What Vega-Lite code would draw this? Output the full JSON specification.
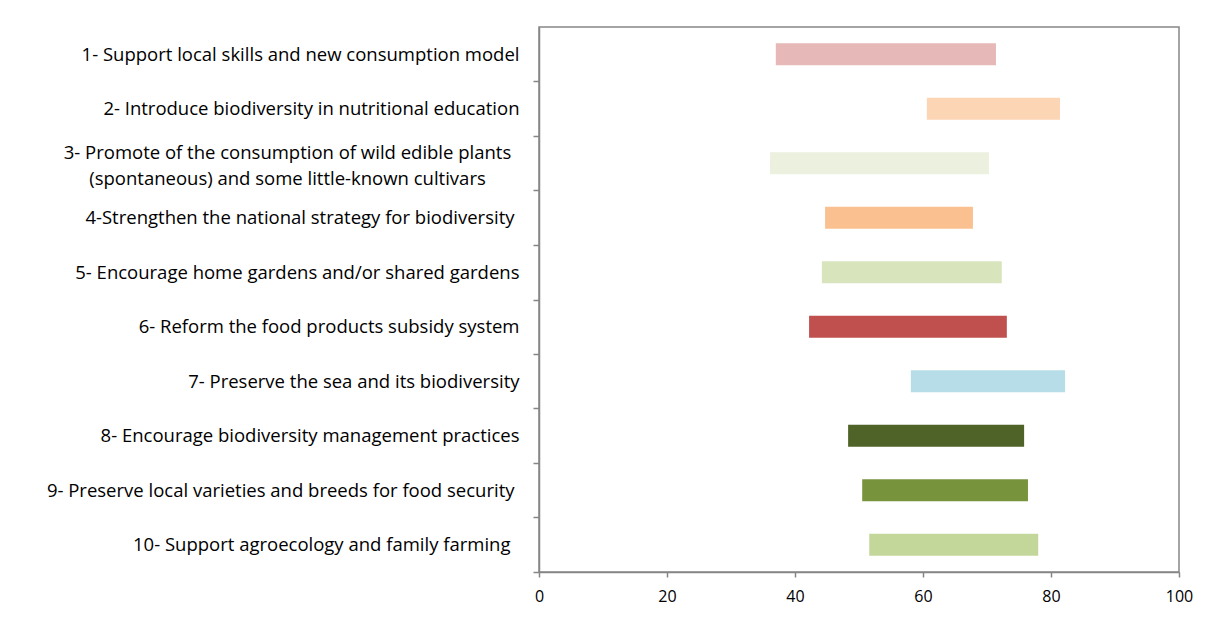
{
  "$schema": "https://vega.github.io/schema/vega-lite/v6.json",
  "autosize": {"type": "none"},
  "width": 640,
  "height": 545,
  "padding": {"left": 539, "top": 27, "right": 31, "bottom": 52},
  "background": "#ffffff",
  "data": {
    "values": [
      {"order": 1, "label": "1- Support local skills and new consumption model", "start": 37.0, "end": 71.4},
      {"order": 2, "label": "2- Introduce biodiversity in nutritional education", "start": 60.6, "end": 81.4},
      {"order": 3, "label": "3- Promote of the consumption of wild edible plants|(spontaneous) and some little-known cultivars", "start": 36.1, "end": 70.3},
      {"order": 4, "label": "4-Strengthen the national strategy for biodiversity", "start": 44.7, "end": 67.8},
      {"order": 5, "label": "5- Encourage home gardens and/or shared gardens", "start": 44.2, "end": 72.3},
      {"order": 6, "label": "6- Reform the food products subsidy system", "start": 42.2, "end": 73.1},
      {"order": 7, "label": "7- Preserve the sea and its biodiversity", "start": 58.1, "end": 82.2},
      {"order": 8, "label": "8- Encourage biodiversity management practices", "start": 48.3, "end": 75.8},
      {"order": 9, "label": "9- Preserve local varieties and breeds for food security", "start": 50.5, "end": 76.4},
      {"order": 10, "label": "10- Support agroecology and family farming", "start": 51.6, "end": 78.0}
    ]
  },
  "mark": {"type": "bar"},
  "encoding": {
    "y": {
      "field": "label",
      "type": "nominal",
      "sort": {"field": "order", "op": "min"},
      "scale": {"paddingInner": 0.6, "paddingOuter": 0.3},
      "axis": {
        "title": null,
        "labelExpr": "split(datum.label, '|')",
        "labelFont": "Open Sans",
        "labelFontSize": 18.5,
        "labelColor": "#000000",
        "labelLineHeight": 26,
        "labelPadding": {
          "condition": [
            {"test": "test(/^3-/, datum.label)", "value": 246},
            {"test": "test(/^(4|9)-/, datum.label)", "value": 19},
            {"test": "test(/^10-/, datum.label)", "value": 23}
          ],
          "value": 14
        },
        "labelAlign": {"condition": {"test": "test(/^3-/, datum.label)", "value": "center"}, "value": "right"},
        "labelLimit": 600,
        "tickOffset": 27.25,
        "labelOffset": {"condition": {"test": "test(/^3-/, datum.label)", "value": -38.5}, "value": -27.25},
        "tickSize": 6,
        "tickColor": "#868686",
        "tickWidth": 1.5,
        "domainColor": "#868686",
        "domainWidth": 1.5
      }
    },
    "x": {
      "field": "start",
      "type": "quantitative",
      "scale": {"domain": [0, 100], "nice": false},
      "axis": {
        "title": null,
        "values": [0, 20, 40, 60, 80, 100],
        "grid": false,
        "labelFont": "Open Sans",
        "labelFontSize": 16,
        "labelColor": "#000000",
        "labelPadding": 11,
        "labelFlush": false,
        "tickSize": 5,
        "tickColor": "#868686",
        "tickWidth": 1.5,
        "domainColor": "#868686",
        "domainWidth": 1.5
      }
    },
    "x2": {"field": "end"},
    "color": {
      "field": "label",
      "type": "nominal",
      "legend": null,
      "scale": {
        "domain": [
          "1- Support local skills and new consumption model",
          "2- Introduce biodiversity in nutritional education",
          "3- Promote of the consumption of wild edible plants|(spontaneous) and some little-known cultivars",
          "4-Strengthen the national strategy for biodiversity",
          "5- Encourage home gardens and/or shared gardens",
          "6- Reform the food products subsidy system",
          "7- Preserve the sea and its biodiversity",
          "8- Encourage biodiversity management practices",
          "9- Preserve local varieties and breeds for food security",
          "10- Support agroecology and family farming"
        ],
        "range": ["#E6B8B7", "#FCD5B4", "#EBF1DE", "#FAC090", "#D8E4BC", "#C0504D", "#B7DEE8", "#4F6228", "#77933C", "#C4D79B"]
      }
    }
  },
  "config": {
    "view": {"stroke": "#868686", "strokeWidth": 1.5}
  }
}
